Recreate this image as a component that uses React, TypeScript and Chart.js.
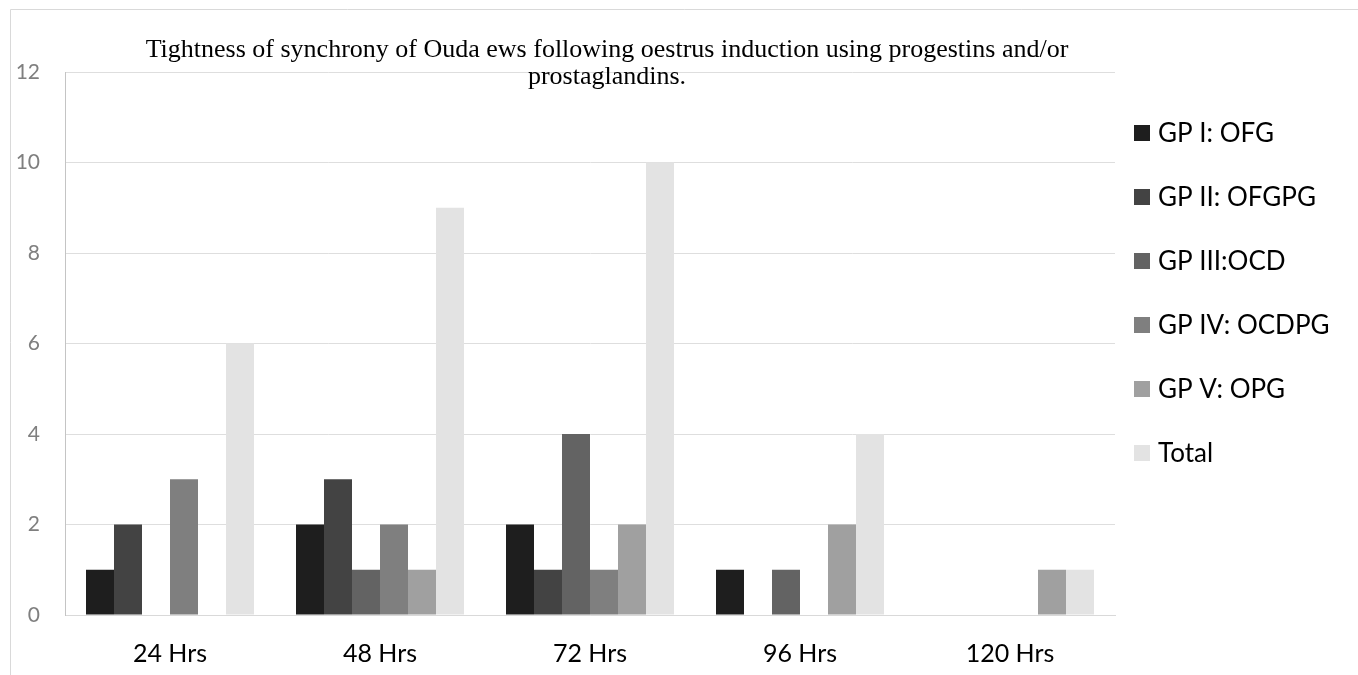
import React, { useEffect, useRef } from "react";
import { Chart, registerables } from "chart.js";

Chart.register(...registerables);

const categories = ["24 Hrs", "48 Hrs", "72 Hrs", "96 Hrs", "120 Hrs"];
const seriesNames = ["GP I: OFG", "GP II: OFGPG", "GP III:OCD", "GP IV: OCDPG", "GP V: OPG", "Total"];
const gp1 = [1, 2, 2, 1, 0];
const gp2 = [2, 3, 1, 0, 0];
const gp3 = [0, 1, 4, 1, 0];
const gp4 = [3, 2, 1, 0, 0];
const gp5 = [0, 1, 2, 2, 1];
const total = [6, 9, 10, 4, 1];
const seriesColors = ["#1e1e1e", "#434343", "#636363", "#7f7f7f", "#a0a0a0", "#e3e3e3"];
const titleLines = [
  "Tightness of synchrony of Ouda ews following oestrus induction using progestins and/or",
  "prostaglandins.",
];

const SANS = 'Lato, "Open Sans", sans-serif';

const decorPlugin = {
  id: "decor",
  afterDraw(chart: any) {
    const ctx = chart.ctx as CanvasRenderingContext2D;
    ctx.save();
    // outer frame
    ctx.strokeStyle = "#d9d9d9";
    ctx.lineWidth = 1;
    ctx.beginPath();
    ctx.moveTo(10.5, 675);
    ctx.lineTo(10.5, 9.5);
    ctx.lineTo(1358, 9.5);
    ctx.stroke();
    // title
    ctx.fillStyle = "#000";
    ctx.font = '26px "Liberation Serif", "Times New Roman", serif';
    ctx.textAlign = "center";
    ctx.textBaseline = "middle";
    ctx.fillText(titleLines[0], 607, 50);
    ctx.fillText(titleLines[1], 607, 77);
    // legend
    ctx.textAlign = "left";
    ctx.font = "26px " + SANS;
    chart.data.datasets.forEach((ds: any, i: number) => {
      const cy = 133 + i * 64;
      ctx.fillStyle = ds.backgroundColor;
      ctx.fillRect(1134, cy - 8, 16, 16);
      ctx.fillStyle = "#000";
      ctx.fillText(ds.label, 1158, cy + 1);
    });
    ctx.restore();
  },
};

export default function App() {
  const ref = useRef<HTMLCanvasElement>(null);
  useEffect(() => {
    document.body.style.margin = "0";
    const seriesData = [gp1, gp2, gp3, gp4, gp5, total];
    const chart = new Chart(ref.current as HTMLCanvasElement, {
      type: "bar",
      data: {
        labels: categories,
        datasets: seriesNames.map((name, i) => ({
          label: name,
          data: seriesData[i],
          backgroundColor: seriesColors[i],
          borderWidth: 0,
          categoryPercentage: 0.8,
          barPercentage: 1.0,
        })),
      },
      options: {
        responsive: false,
        animation: false,
        layout: { padding: { left: 0, right: 243, top: 72, bottom: 0 } },
        plugins: { legend: { display: false }, title: { display: false }, tooltip: { enabled: false } },
        scales: {
          x: {
            grid: { display: false },
            border: { display: true, color: "#d9d9d9", width: 1 },
            ticks: { color: "#000", font: { size: 25, family: SANS }, padding: 16 },
            afterFit(scale: any) {
              scale.height = 60;
            },
          },
          y: {
            min: 0,
            max: 12,
            ticks: { stepSize: 2, color: "#7f7f7f", font: { size: 21, family: SANS }, padding: 25 },
            grid: { color: "#dedede", drawTicks: false },
            border: { display: true, color: "#c4c4c4", width: 1 },
            afterFit(scale: any) {
              scale.width = 65;
            },
          },
        },
      },
      plugins: [decorPlugin],
    });
    return () => chart.destroy();
  }, []);
  return <canvas ref={ref} width={1358} height={675} style={{ display: "block" }} />;
}
